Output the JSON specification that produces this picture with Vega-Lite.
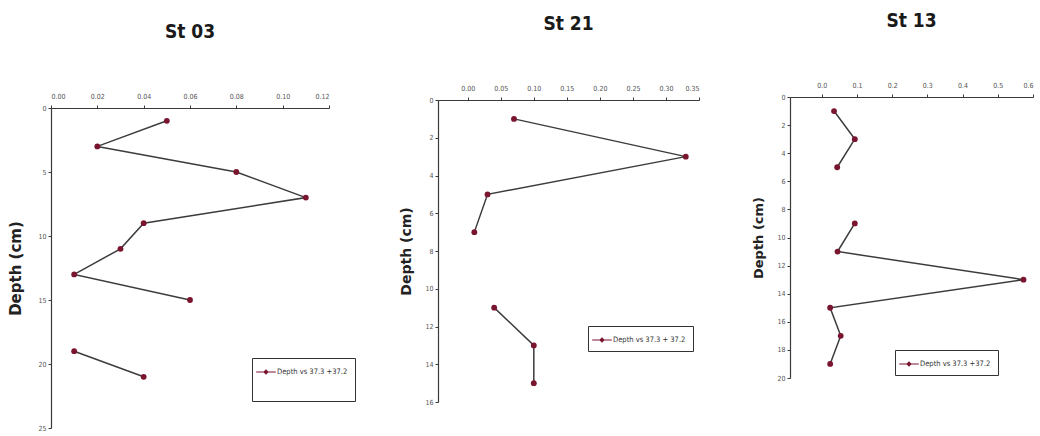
{
  "$schema": "https://vega.github.io/schema/vega-lite/v6.json",
  "background": "white",
  "padding": {"left": 8, "top": 0, "right": 0, "bottom": 0},
  "autosize": {"type": "pad"},
  "datasets": {
    "profiles": [
      {"station": "St 03", "depth": 1, "value": 0.05, "series": "Depth vs 37.3 +37.2"},
      {"station": "St 03", "depth": 3, "value": 0.02, "series": "Depth vs 37.3 +37.2"},
      {"station": "St 03", "depth": 5, "value": 0.08, "series": "Depth vs 37.3 +37.2"},
      {"station": "St 03", "depth": 7, "value": 0.11, "series": "Depth vs 37.3 +37.2"},
      {"station": "St 03", "depth": 9, "value": 0.04, "series": "Depth vs 37.3 +37.2"},
      {"station": "St 03", "depth": 11, "value": 0.03, "series": "Depth vs 37.3 +37.2"},
      {"station": "St 03", "depth": 13, "value": 0.01, "series": "Depth vs 37.3 +37.2"},
      {"station": "St 03", "depth": 15, "value": 0.06, "series": "Depth vs 37.3 +37.2"},
      {"station": "St 03", "depth": 17, "value": null, "series": "Depth vs 37.3 +37.2"},
      {"station": "St 03", "depth": 19, "value": 0.01, "series": "Depth vs 37.3 +37.2"},
      {"station": "St 03", "depth": 21, "value": 0.04, "series": "Depth vs 37.3 +37.2"},
      {"station": "St 21", "depth": 1, "value": 0.07, "series": "Depth vs 37.3 + 37.2"},
      {"station": "St 21", "depth": 3, "value": 0.33, "series": "Depth vs 37.3 + 37.2"},
      {"station": "St 21", "depth": 5, "value": 0.03, "series": "Depth vs 37.3 + 37.2"},
      {"station": "St 21", "depth": 7, "value": 0.01, "series": "Depth vs 37.3 + 37.2"},
      {"station": "St 21", "depth": 9, "value": null, "series": "Depth vs 37.3 + 37.2"},
      {"station": "St 21", "depth": 11, "value": 0.04, "series": "Depth vs 37.3 + 37.2"},
      {"station": "St 21", "depth": 13, "value": 0.10, "series": "Depth vs 37.3 + 37.2"},
      {"station": "St 21", "depth": 15, "value": 0.10, "series": "Depth vs 37.3 + 37.2"},
      {"station": "St 13", "depth": 1, "value": 0.035, "series": "Depth vs 37.3 +37.2"},
      {"station": "St 13", "depth": 3, "value": 0.094, "series": "Depth vs 37.3 +37.2"},
      {"station": "St 13", "depth": 5, "value": 0.044, "series": "Depth vs 37.3 +37.2"},
      {"station": "St 13", "depth": 7, "value": null, "series": "Depth vs 37.3 +37.2"},
      {"station": "St 13", "depth": 9, "value": 0.094, "series": "Depth vs 37.3 +37.2"},
      {"station": "St 13", "depth": 11, "value": 0.045, "series": "Depth vs 37.3 +37.2"},
      {"station": "St 13", "depth": 13, "value": 0.573, "series": "Depth vs 37.3 +37.2"},
      {"station": "St 13", "depth": 15, "value": 0.024, "series": "Depth vs 37.3 +37.2"},
      {"station": "St 13", "depth": 17, "value": 0.054, "series": "Depth vs 37.3 +37.2"},
      {"station": "St 13", "depth": 19, "value": 0.024, "series": "Depth vs 37.3 +37.2"}
    ],
    "blank": [{"k": 1}]
  },
  "config": {
    "view": {"stroke": null},
    "axis": {
      "grid": false,
      "domainColor": "#3a3a3a",
      "domainWidth": 1.2,
      "tickColor": "#3a3a3a",
      "tickSize": 3,
      "labelFont": "DejaVu Sans Condensed, Liberation Sans",
      "labelFontSize": 7,
      "labelColor": "#555555",
      "titleFont": "DejaVu Sans",
      "titleFontWeight": "bold",
      "titleColor": "#222222",
      "titleFontSize": 13
    },
    "axisX": {"labelPadding": 6},
    "axisY": {"labelPadding": 2},
    "title": {
      "font": "DejaVu Sans Condensed, Liberation Sans",
      "fontSize": 19,
      "fontWeight": "bold",
      "color": "#1a1a1a",
      "anchor": "middle",
      "offset": 50
    },
    "legend": {
      "orient": "none",
      "strokeColor": "#333333",
      "padding": 7,
      "labelFont": "DejaVu Sans Condensed, Liberation Sans",
      "labelFontSize": 7.5,
      "labelColor": "#333333",
      "labelOffset": 4,
      "symbolType": "M-1.6,-0.09H1.6V0.09H-1.6Z M0,-0.45L0.45,0L0,0.45L-0.45,0Z",
      "symbolSize": 150
    }
  },
  "spacing": 40,
  "resolve": {"scale": {"color": "independent"}, "legend": {"color": "independent"}},
  "hconcat": [
    {
      "spacing": 0,
      "resolve": {"scale": {"color": "independent"}, "legend": {"color": "independent"}},
      "vconcat": [
        {"width": 308, "height": 17, "data": {"name": "blank"}, "mark": {"type": "text", "text": ""}, "encoding": {}},
        {
          "title": "St 03",
          "width": 278,
          "height": 320,
          "data": {"name": "profiles"},
          "transform": [{"filter": "datum.station == 'St 03'"}],
          "encoding": {
            "y": {"field": "depth", "type": "quantitative", "scale": {"domain": [0, 25], "reverse": true, "nice": false, "zero": false},
                  "axis": {"values": [0, 5, 10, 15, 20, 25], "title": "Depth (cm)", "titlePadding": 14, "titleFontSize": 15}},
            "x": {"field": "value", "type": "quantitative", "scale": {"domain": [0, 0.12], "nice": false, "zero": false},
                  "axis": {"orient": "top", "values": [0, 0.02, 0.04, 0.06, 0.08, 0.1, 0.12], "format": ".2f", "title": null}},
            "order": {"field": "depth", "type": "quantitative"}
          },
          "layer": [
            {"mark": {"type": "line", "color": "#3c3c3c", "strokeWidth": 1.5, "invalid": "break-paths-filter-domains"}},
            {"mark": {"type": "point", "filled": true, "shape": "circle", "size": 34, "opacity": 1},
             "encoding": {"color": {"field": "series", "type": "nominal", "scale": {"range": ["#7a1530"]},
               "legend": {"title": " ", "titleOrient": "bottom", "titleFontSize": 14, "titlePadding": 4, "legendX": 201, "legendY": 250}}}}
          ]
        }
      ]
    },
    {
      "spacing": 0,
      "resolve": {"scale": {"color": "independent"}, "legend": {"color": "independent"}},
      "vconcat": [
        {"width": 274, "height": 7, "data": {"name": "blank"}, "mark": {"type": "text", "text": ""}, "encoding": {}},
        {
          "title": "St 21",
          "width": 261,
          "height": 302,
          "data": {"name": "profiles"},
          "transform": [{"filter": "datum.station == 'St 21'"}],
          "encoding": {
            "y": {"field": "depth", "type": "quantitative", "scale": {"domain": [0, 16], "reverse": true, "nice": false, "zero": false},
                  "axis": {"values": [0, 2, 4, 6, 8, 10, 12, 14, 16], "title": "Depth (cm)", "titlePadding": 11, "titleFontSize": 14}},
            "x": {"field": "value", "type": "quantitative", "scale": {"domain": [-0.045, 0.35], "nice": false, "zero": false},
                  "axis": {"orient": "top", "values": [0, 0.05, 0.1, 0.15, 0.2, 0.25, 0.3, 0.35], "format": ".2f", "title": null}},
            "order": {"field": "depth", "type": "quantitative"}
          },
          "layer": [
            {"mark": {"type": "line", "color": "#3c3c3c", "strokeWidth": 1.5, "invalid": "break-paths-filter-domains"}},
            {"mark": {"type": "point", "filled": true, "shape": "circle", "size": 34, "opacity": 1},
             "encoding": {"color": {"field": "series", "type": "nominal", "scale": {"range": ["#7a1530"]},
               "legend": {"title": null, "legendX": 150, "legendY": 226}}}}
          ]
        }
      ]
    },
    {
      "spacing": 0,
      "resolve": {"scale": {"color": "independent"}, "legend": {"color": "independent"}},
      "vconcat": [
        {"width": 243, "height": 1, "data": {"name": "blank"}, "mark": {"type": "text", "text": ""}, "encoding": {}},
        {
          "title": "St 13",
          "width": 243,
          "height": 281,
          "data": {"name": "profiles"},
          "transform": [{"filter": "datum.station == 'St 13'"}],
          "encoding": {
            "y": {"field": "depth", "type": "quantitative", "scale": {"domain": [0, 20], "reverse": true, "nice": false, "zero": false},
                  "axis": {"values": [0, 2, 4, 6, 8, 10, 12, 14, 16, 18, 20], "title": "Depth (cm)", "titlePadding": 11, "titleFontSize": 13}},
            "x": {"field": "value", "type": "quantitative", "scale": {"domain": [-0.09, 0.6], "nice": false, "zero": false},
                  "axis": {"orient": "top", "values": [0, 0.1, 0.2, 0.3, 0.4, 0.5, 0.6], "format": ".1f", "title": null}},
            "order": {"field": "depth", "type": "quantitative"}
          },
          "layer": [
            {"mark": {"type": "line", "color": "#3c3c3c", "strokeWidth": 1.5, "invalid": "break-paths-filter-domains"}},
            {"mark": {"type": "point", "filled": true, "shape": "circle", "size": 34, "opacity": 1},
             "encoding": {"color": {"field": "series", "type": "nominal", "scale": {"range": ["#7a1530"]},
               "legend": {"title": null, "legendX": 105, "legendY": 253}}}}
          ]
        }
      ]
    }
  ]
}
